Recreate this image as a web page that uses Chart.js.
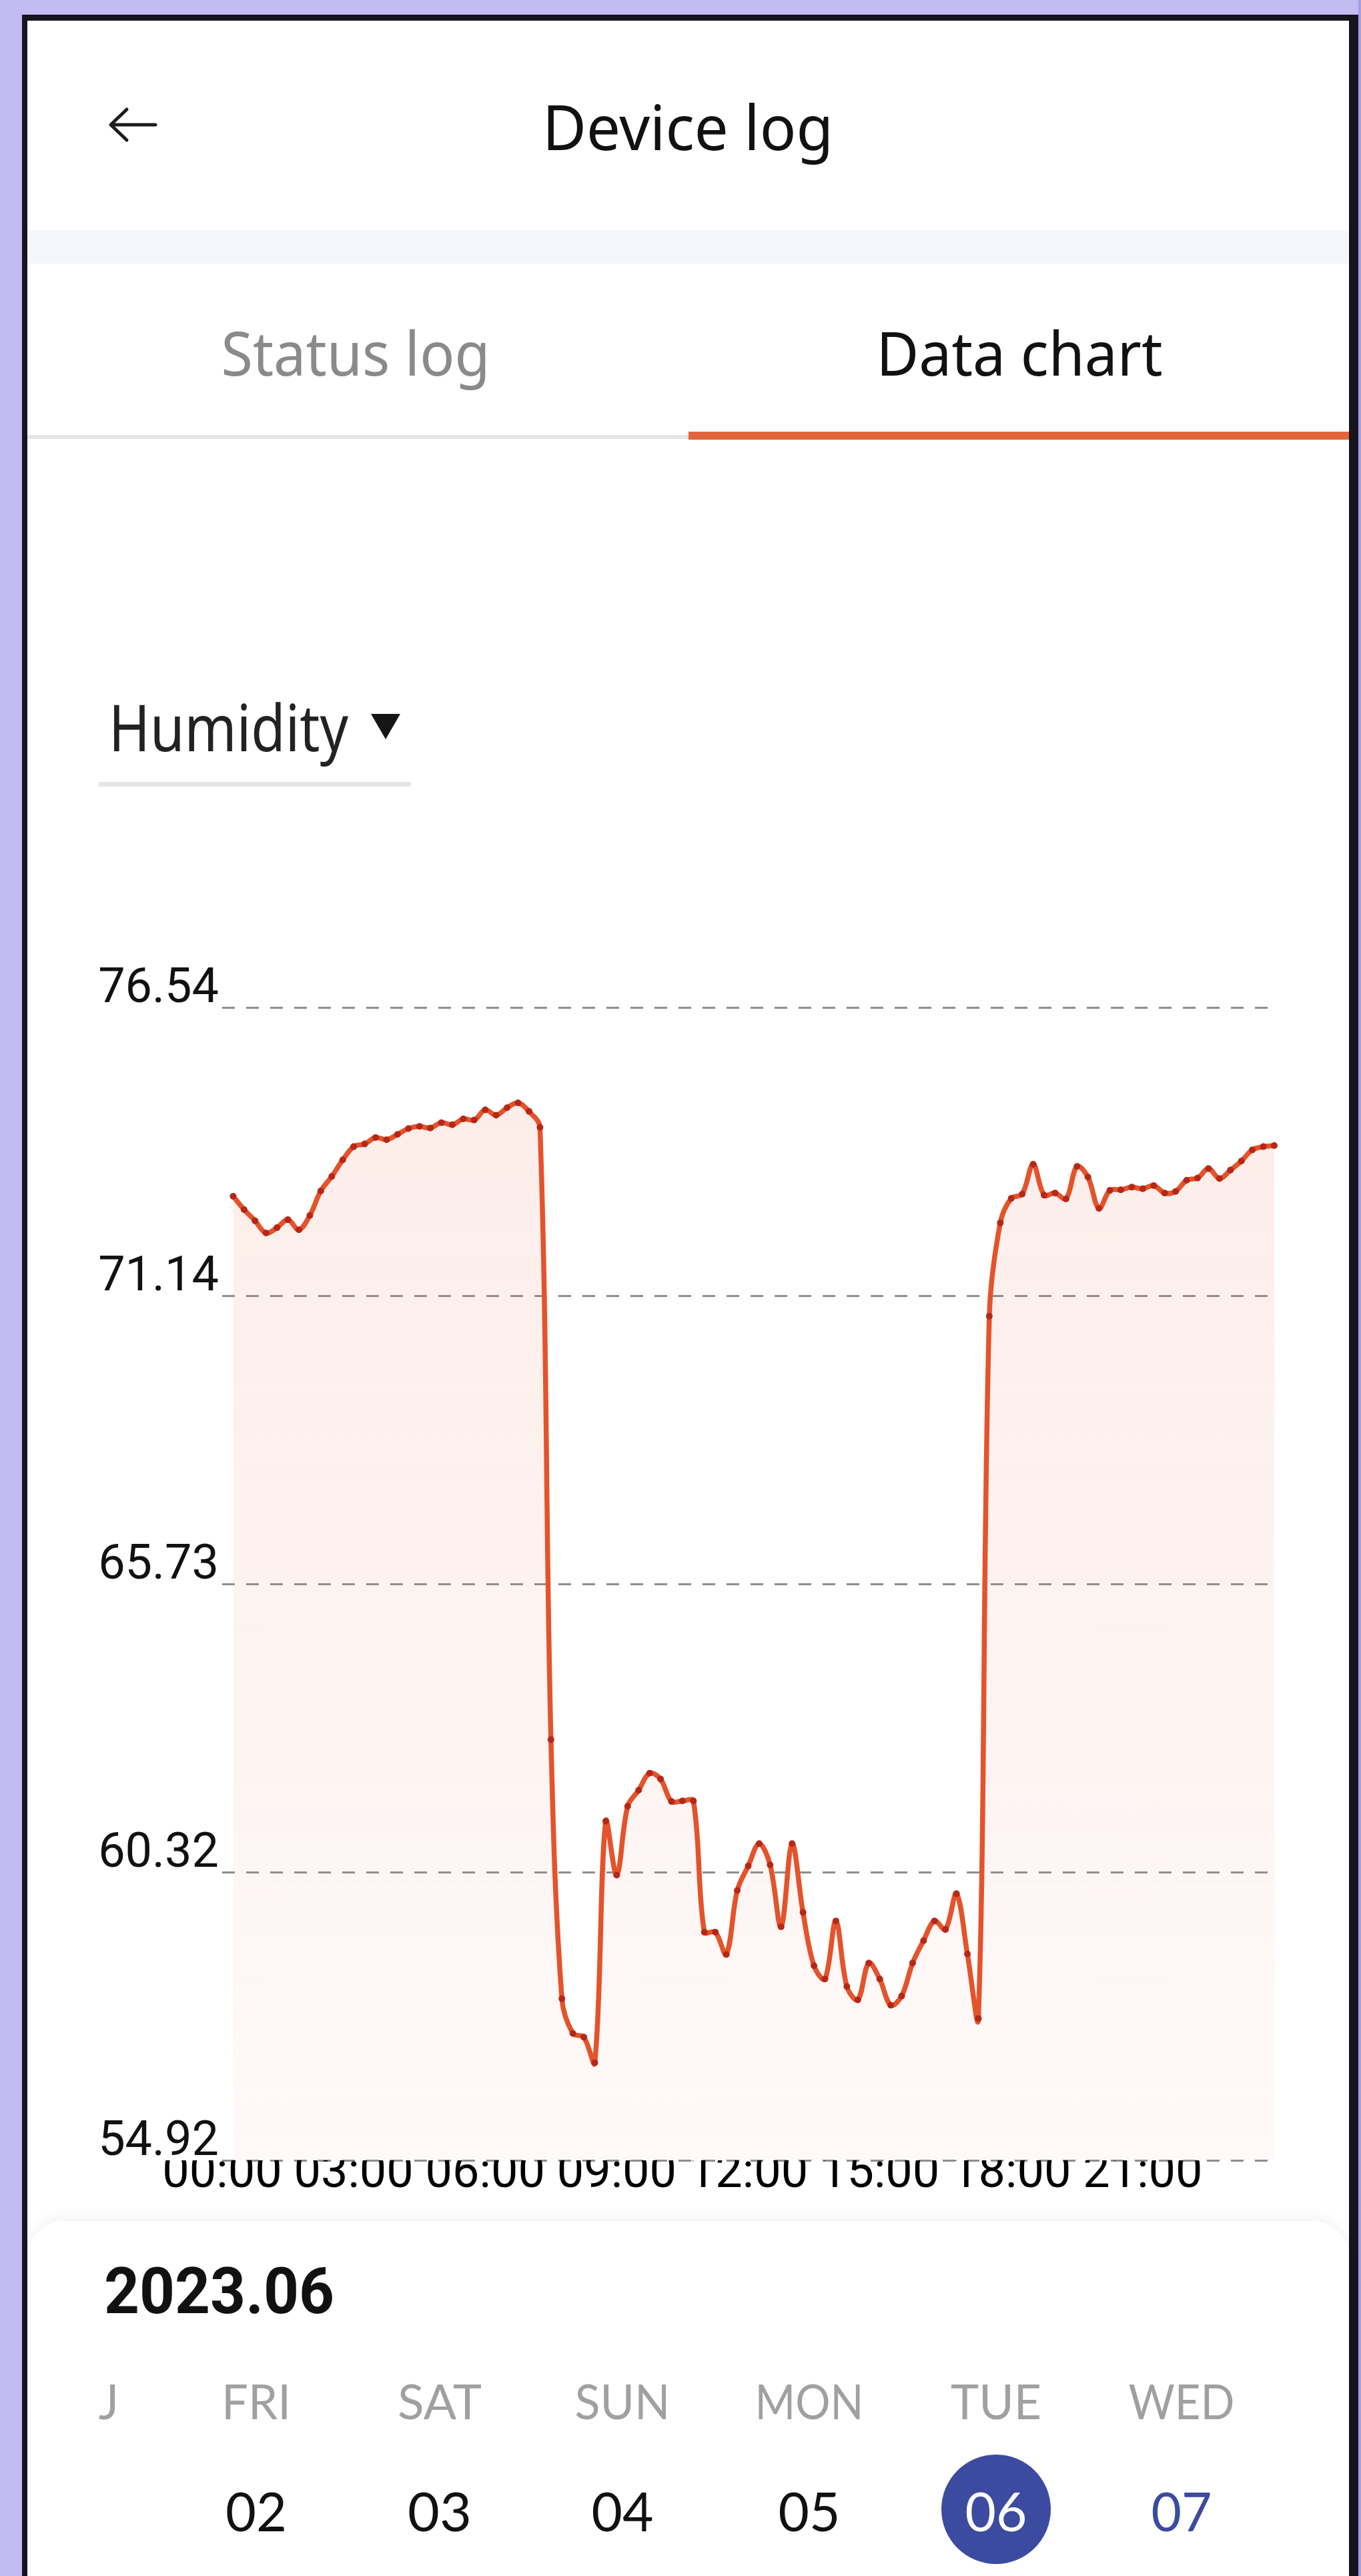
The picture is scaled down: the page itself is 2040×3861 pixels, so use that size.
<!DOCTYPE html>
<html>
<head>
<meta charset="utf-8">
<title>Device log</title>
<script src="https://cdn.jsdelivr.net/npm/chart.js@4.4.0/dist/chart.umd.min.js"></script>
<style>
    html, body { margin: 0; padding: 0; }
    body { width: 2040px; height: 3861px; overflow: hidden; position: relative; background: #c2bbf2; }
    #screen { position: absolute; left: 0; top: 0; }
    #chart_box { position: absolute; left: 42px; top: 1400px; width: 1980px; height: 1925px; }
</style>
</head>
<body>

<svg id="screen" width="2040" height="3861" viewBox="0 0 2040 3861">
    <defs>
        <filter id="card_shadow" x="-5%" y="-20%" width="110%" height="140%">
            <feDropShadow dx="0" dy="-3" stdDeviation="9" flood-color="#000" flood-opacity="0.06"/>
        </filter>
    </defs>
    <rect x="2036" y="0" width="4" height="3861" fill="#a59edf"/>
    <!-- phone frame -->
    <rect x="33" y="22" width="2003" height="3860" fill="#17131f"/>
    <rect x="41" y="31" width="1981" height="3850" fill="#ffffff"/>

    <!-- header -->
    <path d="M 233 187 H 167 M 190 164 L 166 187 L 190 210" stroke="#1c1c1c" stroke-width="5" fill="none" stroke-linecap="round" stroke-linejoin="round"/>
    <text x="1031" y="225" text-anchor="middle" textLength="436" lengthAdjust="spacingAndGlyphs"
          style="font-family: 'Noto Sans'; font-size: 93px; fill: #111;">Device log</text>
    <rect x="41" y="345" width="1981" height="50" fill="#f4f6fb"/>

    <!-- tabs -->
    <text x="533" y="563" text-anchor="middle" textLength="403" lengthAdjust="spacingAndGlyphs"
          style="font-family: 'Noto Sans'; font-size: 91px; fill: #8a8a8a;">Status log</text>
    <text x="1528" y="563" text-anchor="middle" textLength="429" lengthAdjust="spacingAndGlyphs"
          style="font-family: 'Noto Sans'; font-size: 91px; fill: #111;">Data chart</text>
    <rect x="41" y="652" width="991" height="6" fill="#e6e6e6"/>
    <rect x="1032" y="647" width="990" height="12" fill="#e2643d"/>

    <!-- metric picker -->
    <text x="163" y="1126" textLength="359" lengthAdjust="spacingAndGlyphs"
          style="font-family: 'Noto Sans'; font-size: 96px; fill: #222;">Humidity</text>
    <polygon points="556,1070 600,1070 578,1108" fill="#151515"/>
    <rect x="148" y="1172" width="468" height="7" fill="#e6e6e6"/>

    <!-- calendar card -->
    <rect x="41" y="3329" width="1981" height="640" rx="55" fill="#ffffff" filter="url(#card_shadow)"/>
    <text x="156" y="3467" textLength="345" lengthAdjust="spacingAndGlyphs"
          style="font-family: Roboto; font-weight: bold; font-size: 97px; fill: #111;">2023.06</text>

    <g style="font-family: Lato; font-size: 72px; fill: #a0a0a0;" text-anchor="middle">
        <text x="163" y="3626">J</text>
        <text x="384" y="3626" textLength="104" lengthAdjust="spacingAndGlyphs">FRI</text>
        <text x="659" y="3626" textLength="126" lengthAdjust="spacingAndGlyphs">SAT</text>
        <text x="933" y="3626" textLength="143" lengthAdjust="spacingAndGlyphs">SUN</text>
        <text x="1213" y="3626" textLength="163" lengthAdjust="spacingAndGlyphs">MON</text>
        <text x="1493" y="3626" textLength="136" lengthAdjust="spacingAndGlyphs">TUE</text>
        <text x="1771" y="3626" textLength="159" lengthAdjust="spacingAndGlyphs">WED</text>
    </g>

    <circle cx="1493" cy="3761" r="82" fill="#3c4aa0"/>
    <g style="font-family: Lato; font-size: 82px;" text-anchor="middle">
        <text x="384" y="3794" fill="#111" textLength="92" lengthAdjust="spacingAndGlyphs">02</text>
        <text x="659" y="3794" fill="#111" textLength="96" lengthAdjust="spacingAndGlyphs">03</text>
        <text x="933" y="3794" fill="#111" textLength="93" lengthAdjust="spacingAndGlyphs">04</text>
        <text x="1213" y="3794" fill="#111" textLength="93" lengthAdjust="spacingAndGlyphs">05</text>
        <text x="1493" y="3794" fill="#ffffff" textLength="93" lengthAdjust="spacingAndGlyphs">06</text>
        <text x="1771" y="3794" fill="#3c4aa0" textLength="91" lengthAdjust="spacingAndGlyphs">07</text>
    </g>
</svg>

<div id="chart_box"><canvas id="ctx_humidity" width="1980" height="1925"></canvas></div>

<script>
// readings every 15 minutes, 2023.06.06
var time_labels = [
    '00:15', '00:30', '00:45', '01:00', '01:15', '01:30', '01:45', '02:00',
    '02:15', '02:30', '02:45', '03:00', '03:15', '03:30', '03:45', '04:00',
    '04:15', '04:30', '04:45', '05:00', '05:15', '05:30', '05:45', '06:00',
    '06:15', '06:30', '06:45', '07:00', '07:15', '07:30', '07:45', '08:00',
    '08:15', '08:30', '08:45', '09:00', '09:15', '09:30', '09:45', '10:00',
    '10:15', '10:30', '10:45', '11:00', '11:15', '11:30', '11:45', '12:00',
    '12:15', '12:30', '12:45', '13:00', '13:15', '13:30', '13:45', '14:00',
    '14:15', '14:30', '14:45', '15:00', '15:15', '15:30', '15:45', '16:00',
    '16:15', '16:30', '16:45', '17:00', '17:15', '17:30', '17:45', '18:00',
    '18:15', '18:30', '18:45', '19:00', '19:15', '19:30', '19:45', '20:00',
    '20:15', '20:30', '20:45', '21:00', '21:15', '21:30', '21:45', '22:00',
    '22:15', '22:30', '22:45', '23:00', '23:15', '23:30', '23:45', '24:00'
];

var humidity_values = [
    73.00, 72.75, 72.54, 72.31, 72.41, 72.56, 72.37, 72.64,
    73.10, 73.37, 73.68, 73.93, 73.98, 74.10, 74.06, 74.16,
    74.27, 74.31, 74.28, 74.38, 74.34, 74.45, 74.43, 74.62,
    74.52, 74.66, 74.75, 74.59, 74.29, 62.81, 57.95, 57.30,
    57.23, 56.75, 61.28, 60.27, 61.56, 61.86, 62.18, 62.07,
    61.65, 61.66, 61.66, 59.20, 59.20, 58.78, 59.98, 60.44,
    60.86, 60.46, 59.30, 60.86, 59.57, 58.57, 58.32, 59.41,
    58.18, 57.93, 58.62, 58.32, 57.83, 58.00, 58.62, 59.04,
    59.41, 59.25, 59.92, 58.79, 57.58, 70.75, 72.50, 72.96,
    73.04, 73.60, 73.02, 73.06, 72.95, 73.56, 73.36, 72.77,
    73.11, 73.12, 73.17, 73.14, 73.20, 73.06, 73.09, 73.30,
    73.34, 73.52, 73.33, 73.49, 73.66, 73.87, 73.93, 73.95
];

var y_tick_values = [54.92, 60.325, 65.73, 71.135, 76.54];
var y_tick_labels = ['54.92', '60.32', '65.73', '71.14', '76.54'];
var x_tick_hours = [0, 3, 6, 9, 12, 15, 18, 21];
var x_tick_labels = ['00:00', '03:00', '06:00', '09:00', '12:00', '15:00', '18:00', '21:00'];

function to_hours(t) {
    var p = t.split(':');
    return Number(p[0]) + Number(p[1]) / 60;
}

var points = time_labels.map(function (t, i) {
    return { x: to_hours(t), y: humidity_values[i] };
});

var tick_font = { family: 'Roboto', size: 72, lineHeight: 1.2 };

var ctx_humidity = document.getElementById('ctx_humidity').getContext('2d');
var chart_humidity = new Chart(ctx_humidity, {
    type: 'line',
    data: {
        datasets: [{
            data: points,
            borderColor: '#e4532b',
            borderWidth: 7.5,
            tension: 0.35,
            pointRadius: 5,
            pointBackgroundColor: '#b52818',
            pointBorderWidth: 0,
            clip: 8,
            fill: 'start',
            backgroundColor: function (context) {
                var area = context.chart.chartArea;
                if (!area) {
                    return 'rgba(235, 110, 80, 0.08)';
                }
                var g = context.chart.ctx.createLinearGradient(0, area.top, 0, area.bottom);
                g.addColorStop(0, 'rgba(235, 110, 80, 0.13)');
                g.addColorStop(1, 'rgba(235, 110, 80, 0.04)');
                return g;
            }
        }]
    },
    options: {
        responsive: false,
        animation: false,
        devicePixelRatio: 1,
        layout: {
            padding: { left: 0, top: 110, right: 112, bottom: 0 }
        },
        plugins: {
            legend: { display: false },
            tooltip: { enabled: false }
        },
        scales: {
            x: {
                type: 'linear',
                min: 0,
                max: 24,
                afterBuildTicks: function (scale) {
                    scale.ticks = x_tick_hours.map(function (v) { return { value: v }; });
                },
                afterFit: function (scale) {
                    scale.height = 87;
                },
                ticks: {
                    autoSkip: false,
                    maxRotation: 0,
                    padding: -21,
                    color: '#000',
                    font: tick_font,
                    callback: function (value, index) {
                        return x_tick_labels[index];
                    }
                },
                grid: { display: false, drawTicks: false },
                border: { display: false }
            },
            y: {
                min: 54.92,
                max: 76.54,
                afterBuildTicks: function (scale) {
                    scale.ticks = y_tick_values.map(function (v) { return { value: v }; });
                },
                afterFit: function (scale) {
                    scale.width = 291;
                },
                ticks: {
                    padding: 5,
                    labelOffset: -26,
                    color: '#111',
                    font: tick_font,
                    callback: function (value, index) {
                        return y_tick_labels[index];
                    }
                },
                grid: { color: '#8e8e8e', lineWidth: 3, drawTicks: false },
                border: { display: false, dash: [19, 17] }
            }
        }
    }
});
</script>
</body>
</html>
